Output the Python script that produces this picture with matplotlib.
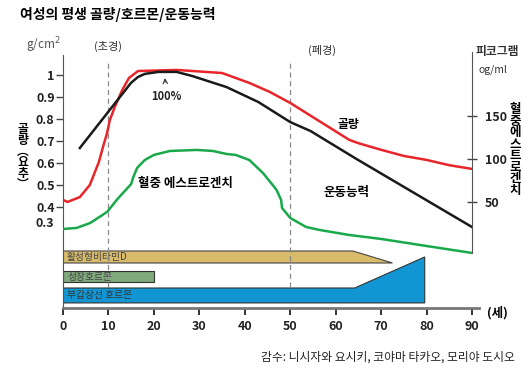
import matplotlib.pyplot as plt

plt.rcParams['font.family'] = ['Noto Sans CJK KR', 'DejaVu Sans']

# bone mass (left axis, g/cm2)
bone_age = [0, 1, 3.7, 5.9, 7.9, 8.8, 9.7, 10.3, 11.4, 13, 14.5, 16.5, 25, 35, 41, 45.5,
            50, 63, 65, 70, 75, 80, 85, 90]
bone_val = [0.432, 0.423, 0.445, 0.50, 0.605, 0.673, 0.736, 0.795, 0.855, 0.93, 0.986, 1.018,
            1.023, 1.009, 0.964, 0.923, 0.873, 0.705, 0.69, 0.66, 0.632, 0.614, 0.59, 0.573]

# motor ability (same scale as bone mass)
motor_age = [3.7, 15, 16.5, 18, 21, 25, 28.5, 36, 43, 50, 54.5, 64.6, 90]
motor_val = [0.668, 0.965, 0.991, 1.005, 1.014, 1.014, 0.995, 0.945, 0.877, 0.786, 0.745, 0.618, 0.309]

# blood estrogen (right axis, pg/ml)
estr_age = [0, 3, 6, 9.7, 12, 15, 15.4, 16.3, 18, 20, 23.5, 29.5, 33, 36, 38, 41, 44, 47,
            48, 48.2, 50, 53.5, 56.5, 63, 70, 80, 90]
estr_val = [18.6, 19.8, 25.6, 38.4, 53.5, 70.9, 77.9, 89.5, 98.8, 104.7, 109.3, 110.5, 109.3,
            105.8, 104.7, 98.8, 83.7, 64.0, 52.3, 43.0, 31.4, 20.9, 17.4, 11.6, 7.0, -1.2, -9.3]

# hormone bars: ages where each shape starts to change / ends
vitd_flat, vitd_end = 63.8, 72.5
gh_end = 20
pth_flat, pth_end = 64.2, 79.6

xticks = [0, 10, 20, 30, 40, 50, 60, 70, 80, 90]
yticks = [0.4, 0.5, 0.6, 0.7, 0.8, 0.9, 1.0]
yticklabels = ['0.4', '0.5', '0.6', '0.7', '0.8', '0.9', '1']
rticks = [50, 100, 150]

fig = plt.figure(figsize=(5.32, 3.75), dpi=100)
ax = fig.add_axes([63 / 532, 1 - 308 / 375, (472 - 63) / 532, (308 - 52) / 375])
ax.set_xlim(0, 90)
ax.set_ylim(-0.0591, 1.1045)

ax2 = ax.twinx()
ax2.set_ylim(-73.3, 224.4)

for s in ['top', 'right']:
    ax.spines[s].set_visible(False)
for s in ['top', 'left', 'bottom']:
    ax2.spines[s].set_visible(False)
ax.spines['left'].set_bounds(-0.0591, 1.091)
ax.spines['left'].set_color('#555555')
ax.spines['bottom'].set_color('#777777')
ax.spines['bottom'].set_linewidth(2)
ax.spines['bottom'].set_bounds(0, 91.5)
ax2.spines['right'].set_bounds(-9.3, 224.4)
ax2.spines['right'].set_color('#555555')

ax.set_xticks(xticks)
ax.set_xticklabels([str(t) for t in xticks], fontweight='bold', fontsize=9, color='#222222')
ax.tick_params(axis='x', length=5, width=1.3, color='#222222', pad=4)
ax.set_yticks(yticks)
ax.set_yticklabels(yticklabels, fontweight='bold', fontsize=9, color='#222222')
ax.tick_params(axis='y', length=5, width=1, color='#444444', pad=1)
ax.text(-1.9, 0.327, '0.3', ha='right', va='center', fontweight='bold', fontsize=9, color='#222222')

ax2.set_yticks(rticks)
ax2.set_yticklabels([str(t) for t in rticks], fontweight='bold', fontsize=9, color='#222222')
ax2.tick_params(axis='y', direction='inout', length=7, width=1, color='#444444', pad=6)

# curves
ax.plot(bone_age, bone_val, color='#e8252a', lw=1.8, solid_joinstyle='round', zorder=4)
ax.plot(motor_age, motor_val, color='#1a1a1a', lw=1.8, solid_joinstyle='round', zorder=4)
ax2.plot(estr_age, estr_val, color='#19a94a', lw=1.8, solid_joinstyle='round', zorder=4)

# hormone bars
ax.fill([0, vitd_flat, vitd_end, 0], [0.2, 0.2, 0.1455, 0.1455],
        facecolor='#d8bb6b', edgecolor='#444444', lw=0.8, zorder=2)
ax.fill([0, gh_end, gh_end, 0], [0.109, 0.109, 0.059, 0.059],
        facecolor='#7fab7c', edgecolor='#333333', lw=0.8, zorder=2)
ax.fill([0, pth_flat, pth_end, pth_end, 0], [0.0318, 0.0318, 0.173, -0.036, -0.036],
        facecolor='#1296d3', edgecolor='#333333', lw=0.8, zorder=2)
ax.text(0.9, 0.173, '활성형비타민D', fontsize=7, color='#444444', va='center', zorder=3)
ax.text(0.9, 0.084, '성장호르몬', fontsize=7, color='#444444', va='center', zorder=3)
ax.text(0.9, -0.002, '부갑상선 호르몬', fontsize=7, color='#333333', va='center', zorder=3)

# menarche / menopause
for age in [10, 50]:
    ax.plot([age, age], [0.036, 1.068], color='#888888', lw=0.9, ls=(0, (4, 3)), zorder=3)
ax.text(10, 1.13, '(초경)', ha='center', va='center', fontsize=8, color='#333333')
ax.text(57, 1.11, '(폐경)', ha='center', va='center', fontsize=8, color='#333333')

# labels on curves
ax.annotate('100%', xy=(22.4, 0.986), xytext=(22.8, 0.9), ha='center', va='center',
            fontsize=8, fontweight='bold', color='#222222',
            arrowprops=dict(arrowstyle='->', lw=0.8, color='#333333', shrinkA=4, shrinkB=0))
ax.text(62.7, 0.777, '골량', ha='center', va='center', fontsize=8.5, fontweight='bold')
ax.text(27, 0.509, '혈중 에스트로겐치', ha='center', va='center', fontsize=9, fontweight='bold')
ax.text(62.3, 0.468, '운동능력', ha='center', va='center', fontsize=9, fontweight='bold')

# axis titles
fig.text(20 / 532, 1 - 14 / 375, '여성의 평생 골량/호르몬/운동능력', fontsize=10, fontweight='bold',
         va='center', ha='left')
fig.text(43 / 532, 1 - 45 / 375, 'g/cm$^2$', fontsize=8.5, color='#555555', ha='center', va='center')
fig.text(23 / 532, 1 - 157 / 375, '\n'.join('골량︵요추︶'), fontsize=8.5, fontweight='bold',
         ha='center', va='center', linespacing=0.8)
fig.text(497 / 532, 1 - 52 / 375, '피코그램', fontsize=8.5, fontweight='bold', color='#333333',
         ha='center', va='center')
fig.text(493 / 532, 1 - 70 / 375, 'og/ml', fontsize=7.5, color='#333333', ha='center', va='center')
fig.text(515 / 532, 1 - 150 / 375, '\n'.join('혈중에스트로겐치'), fontsize=9, fontweight='bold',
         ha='center', va='center', linespacing=0.85)
fig.text(497 / 532, 1 - 313 / 375, '(세)', fontsize=9, fontweight='bold', ha='center', va='center')
fig.text(515 / 532, 1 - 357 / 375, '감수: 니시자와 요시키, 코야마 타카오, 모리야 도시오', fontsize=8.5,
         ha='right', va='center', color='#222222')

plt.savefig('out.png', dpi=100)
